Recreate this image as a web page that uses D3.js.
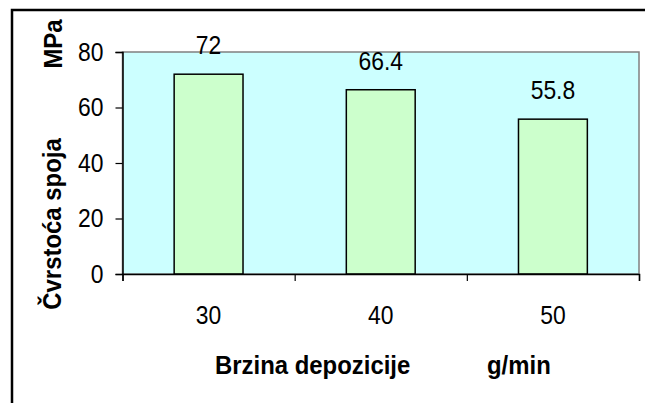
<!DOCTYPE html>
<html>
<head>
<meta charset="utf-8">
<script src="https://cdn.jsdelivr.net/npm/d3@7"></script>
<style>
  body { margin: 0; background: #fff; }
  svg { display: block; font-family: "Liberation Sans", Arial, sans-serif; }
</style>
</head>
<body>
<div id="chart"></div>
<script>
// data
var categories = ["30", "40", "50"];
var values = [72, 66.4, 55.8];
var yTicks = [0, 20, 40, 60, 80];

var W = 645, H = 403;
var margin = { top: 52, right: 6, bottom: 129, left: 122.5 },
    width = W - margin.left - margin.right,
    height = H - margin.top - margin.bottom;

// the excel text looks a bit squeezed sideways
var sx = 0.88, sxBold = 0.92;

var svg = d3.select("#chart").append("svg")
    .attr("width", W)
    .attr("height", H);

// outer chart frame (runs off the right and bottom of the picture)
svg.append("rect")
    .attr("x", 12).attr("y", 10)
    .attr("width", 700).attr("height", 500)
    .attr("fill", "none")
    .attr("stroke", "#000")
    .attr("stroke-width", 2.5);

var g = svg.append("g")
    .attr("transform", "translate(" + margin.left + "," + margin.top + ")");

var x = d3.scaleBand()
    .domain(categories)
    .range([0, width])
    .paddingInner(0)
    .paddingOuter(0);
var y = d3.scaleLinear()
    .domain([0, 80])
    .range([height, 0]);

// plot area
g.append("rect")
    .attr("width", width)
    .attr("height", height)
    .attr("fill", "#ccffff")
    .attr("stroke", "#808080")
    .attr("stroke-width", 1.5);

// bars, excel gap width 150%
var barW = x.bandwidth() / 2.5;
g.selectAll(".bar")
    .data(values)
    .enter().append("rect")
    .attr("class", "bar")
    .attr("x", function (d, i) { return x(categories[i]) + (x.bandwidth() - barW) / 2; })
    .attr("y", function (d) { return y(d); })
    .attr("width", barW)
    .attr("height", function (d) { return height - y(d); })
    .attr("fill", "#ccffcc")
    .attr("stroke", "#000")
    .attr("stroke-width", 1.5);

// value labels
g.selectAll(".amount")
    .data(values)
    .enter().append("text")
    .attr("class", "amount")
    .attr("transform", function (d, i) {
        return "translate(" + (x(categories[i]) + x.bandwidth() / 2) + "," + (y(d) - 20) + ") scale(" + sx + ",1)";
    })
    .attr("text-anchor", "middle")
    .style("font-size", "26px")
    .text(function (d) { return d; });

// y axis
var yAxis = g.append("g")
    .call(d3.axisLeft(y).tickValues(yTicks).tickSize(7));
yAxis.select(".domain").attr("stroke", "#000").attr("stroke-width", 1.5);
yAxis.selectAll(".tick line").attr("stroke", "#000").attr("stroke-width", 1.2);
yAxis.selectAll("text")
    .style("font-size", "26px")
    .attr("fill", "#000")
    .attr("x", -19 / sx)
    .attr("transform", "scale(" + sx + ",1)");

// x axis: ticks at category boundaries, labels in the middle
var xEdge = d3.scaleLinear().domain([0, categories.length]).range([0, width]);
var xAxis = g.append("g")
    .attr("transform", "translate(0," + height + ")")
    .call(d3.axisBottom(xEdge).tickValues(d3.range(categories.length + 1)).tickSize(7).tickFormat(""));
xAxis.select(".domain").attr("stroke", "#000").attr("stroke-width", 1.5);
xAxis.selectAll(".tick line").attr("stroke", "#000").attr("stroke-width", 1.2);

var xLabels = g.append("g")
    .attr("transform", "translate(0," + height + ")")
    .call(d3.axisBottom(x).tickSize(0).tickPadding(32));
xLabels.select(".domain").remove();
xLabels.selectAll("text")
    .style("font-size", "26px")
    .attr("fill", "#000")
    .attr("transform", "scale(" + sx + ",1)");

// axis titles
svg.append("text")
    .attr("transform", "translate(215,374) scale(" + sxBold + ",1)")
    .style("font-size", "26px").style("font-weight", "bold")
    .text("Brzina depozicije");
svg.append("text")
    .attr("transform", "translate(487,374) scale(" + sxBold + ",1)")
    .style("font-size", "26px").style("font-weight", "bold")
    .text("g/min");

svg.append("text")
    .attr("transform", "translate(61,224) rotate(-90) scale(" + sxBold + ",1)")
    .attr("text-anchor", "middle")
    .style("font-size", "26px").style("font-weight", "bold")
    .text("Čvrstoća spoja");
svg.append("text")
    .attr("transform", "translate(62,44) rotate(-90) scale(" + sxBold + ",1)")
    .attr("text-anchor", "middle")
    .style("font-size", "26px").style("font-weight", "bold")
    .text("MPa");
</script>
</body>
</html>
